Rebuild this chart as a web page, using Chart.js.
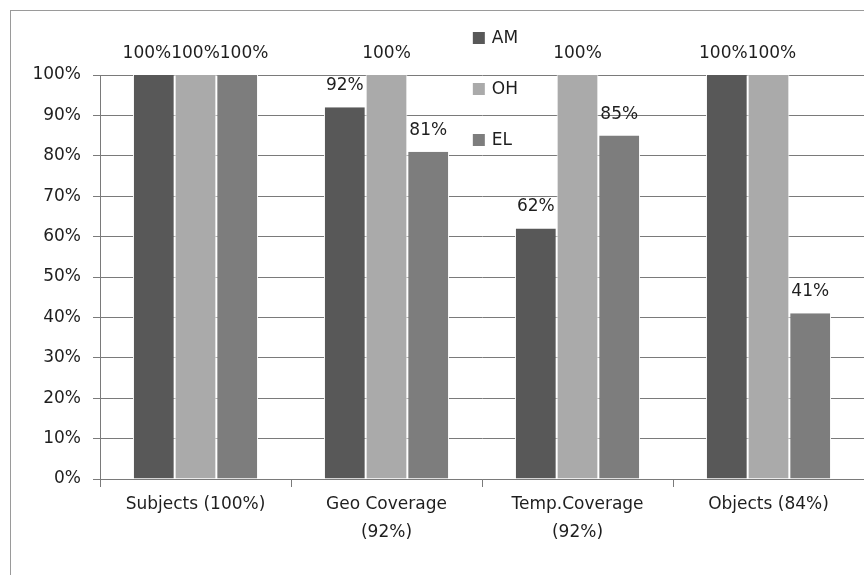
<!DOCTYPE html>
<html>
<head>
<meta charset="utf-8">
<script src="https://cdn.jsdelivr.net/npm/chart.js@4.4.1/dist/chart.umd.min.js"></script>
<style>
    html, body { margin: 0; padding: 0; background: #fff; }
    #wrap { position: relative; width: 864px; height: 575px; overflow: hidden; }
</style>
</head>
<body>
<div id="wrap"><canvas id="coverageChart"></canvas></div>
<script>
// Chart data
const categories = [['Subjects (100%)'], ['Geo Coverage', '(92%)'], ['Temp.Coverage', '(92%)'], ['Objects (84%)']];
const seriesNames = ['AM', 'OH', 'EL'];
const amValues = [100, 92, 62, 100];
const ohValues = [100, 100, 100, 100];
const elValues = [100, 81, 85, 41];
const yTicks = [0, 10, 20, 30, 40, 50, 60, 70, 80, 90, 100];

const seriesColors = ['#585858', '#aaaaaa', '#7d7d7d'];
const gridColor = '#7a7a7a';
const textColor = '#1e1e1e';
const fontFamily = '"DejaVu Sans", sans-serif';

// Outer frame like the Excel chart border
const framePlugin = {
    id: 'frame',
    beforeDraw(chart) {
        const ctx = chart.ctx;
        ctx.save();
        ctx.strokeStyle = '#9a9a9a';
        ctx.lineWidth = 1;
        ctx.strokeRect(10.5, 10.5, chart.width + 20, chart.height + 20);
        ctx.restore();
    }
};

// Value labels above bars, spread side by side when they collide
const valueLabelPlugin = {
    id: 'valueLabels',
    afterDatasetsDraw(chart) {
        const ctx = chart.ctx;
        ctx.save();
        ctx.font = '17px ' + fontFamily;
        ctx.fillStyle = textColor;
        ctx.textAlign = 'center';
        ctx.textBaseline = 'bottom';
        categories.forEach((c, i) => {
            const items = [];
            chart.data.datasets.forEach((ds, d) => {
                const bar = chart.getDatasetMeta(d).data[i];
                const text = ds.data[i] + '%';
                items.push({ x: bar.x, y: bar.y - 13, w: ctx.measureText(text).width, text: text });
            });
            // group labels on the same height
            const rows = [];
            items.forEach(it => {
                const row = rows.find(r => Math.abs(r[0].y - it.y) < 12);
                if (row) row.push(it); else rows.push([it]);
            });
            rows.forEach(row => {
                row.sort((a, b) => a.x - b.x);
                let overlap = false;
                for (let k = 1; k < row.length; k++) {
                    if (row[k].x - row[k - 1].x < (row[k].w + row[k - 1].w) / 2) overlap = true;
                }
                if (overlap) {
                    const total = row.reduce((s, it) => s + it.w, 0);
                    const mid = row.reduce((s, it) => s + it.x, 0) / row.length;
                    let cx = mid - total / 2;
                    row.forEach(it => { it.x = cx + it.w / 2; cx += it.w; });
                }
                row.forEach(it => ctx.fillText(it.text, it.x, it.y));
            });
        });
        ctx.restore();
    }
};

// Legend drawn inside the plot, stacked vertically
const innerLegendPlugin = {
    id: 'innerLegend',
    afterDraw(chart) {
        const ctx = chart.ctx;
        const area = chart.chartArea;
        const x = area.left + (area.right - area.left) * 0.488;
        const y0 = 38;
        ctx.save();
        ctx.font = '17px ' + fontFamily;
        ctx.textBaseline = 'middle';
        chart.data.datasets.forEach((ds, d) => {
            const y = y0 + d * 51;
            ctx.fillStyle = ds.backgroundColor;
            ctx.fillRect(x, y - 6, 12, 12);
            ctx.fillStyle = textColor;
            ctx.fillText(ds.label, x + 19, y + 1);
        });
        ctx.restore();
    }
};

const ctx = document.getElementById('coverageChart').getContext('2d');
new Chart(ctx, {
    type: 'bar',
    data: {
        labels: categories,
        datasets: [amValues, ohValues, elValues].map((vals, i) => ({
            label: seriesNames[i],
            data: vals,
            backgroundColor: seriesColors[i],
            borderColor: '#ffffff',
            borderWidth: { left: 1, right: 1, top: 0, bottom: 0 },
            barPercentage: 1.0,
            categoryPercentage: 0.655
        }))
    },
    options: {
        responsive: true,
        maintainAspectRatio: false,
        animation: false,
        layout: {
            padding: { top: 75, right: 0, bottom: 0, left: 0 }
        },
        plugins: {
            legend: { display: false },
            tooltip: { enabled: false }
        },
        scales: {
            x: {
                grid: {
                    display: true,
                    drawOnChartArea: false,
                    drawTicks: true,
                    tickLength: 8,
                    color: gridColor,
                    offset: true
                },
                border: { color: gridColor },
                ticks: {
                    color: textColor,
                    padding: 4,
                    maxRotation: 0,
                    font: { family: fontFamily, size: 17, lineHeight: 1.65 }
                },
                afterFit(scale) { scale.height = 96; }
            },
            y: {
                min: 0,
                max: 100,
                afterBuildTicks(scale) { scale.ticks = yTicks.map(v => ({ value: v })); },
                grid: { color: gridColor, tickLength: 7 },
                border: { color: gridColor },
                ticks: {
                    color: textColor,
                    padding: 12,
                    font: { family: fontFamily, size: 17 },
                    callback: function(value) { return value + '%'; }
                },
                afterFit(scale) { scale.width = 100; }
            }
        }
    },
    plugins: [framePlugin, valueLabelPlugin, innerLegendPlugin]
});
</script>
</body>
</html>
